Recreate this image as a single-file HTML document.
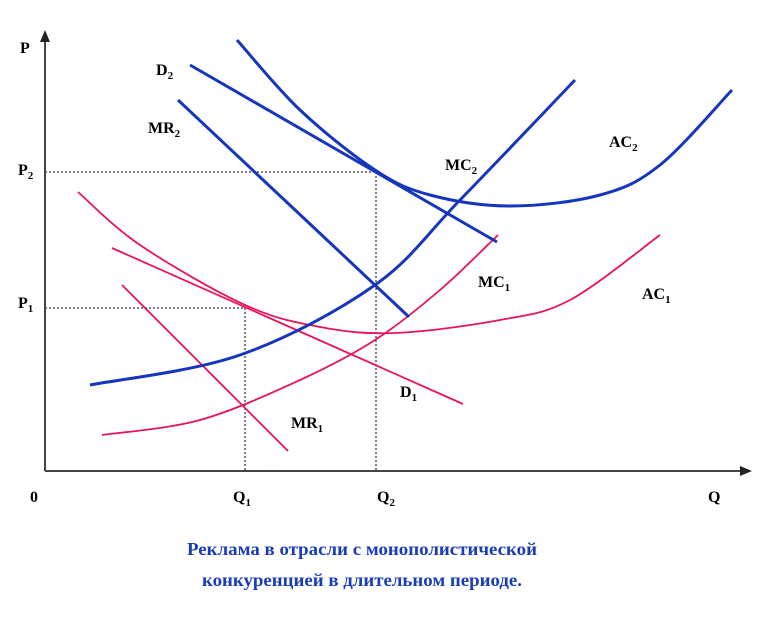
<!DOCTYPE html>
<html><head><meta charset="utf-8"><style>
body{margin:0;background:#fff;width:774px;height:637px;overflow:hidden}
text{font-family:"Liberation Serif",serif;font-weight:bold}
</style></head><body>
<svg width="774" height="637" viewBox="0 0 774 637">
<g id="marks"></g>
<line x1="45" y1="471" x2="745" y2="471" stroke="#444" stroke-width="2"/>
<polygon points="752,471 740,466 740,476" fill="#222"/>
<line x1="45" y1="471" x2="45" y2="38" stroke="#444" stroke-width="2"/>
<polygon points="45,30 40,42 50,42" fill="#222"/>
<g font-size="16" fill="#000">
<text x="20" y="53">P</text>
<text x="708" y="502">Q</text>
<text x="30" y="502">0</text>
<text x="18" y="175">P<tspan font-size="11" dy="4">2</tspan></text>
<text x="18" y="308">P<tspan font-size="11" dy="4">1</tspan></text>
<text x="233" y="502">Q<tspan font-size="11" dy="4">1</tspan></text>
<text x="377" y="502">Q<tspan font-size="11" dy="4">2</tspan></text>
<text x="156" y="75">D<tspan font-size="11" dy="4">2</tspan></text>
<text x="148" y="133">MR<tspan font-size="11" dy="4">2</tspan></text>
<text x="445" y="170">MC<tspan font-size="11" dy="4">2</tspan></text>
<text x="609" y="147">AC<tspan font-size="11" dy="4">2</tspan></text>
<text x="478" y="287">MC<tspan font-size="11" dy="4">1</tspan></text>
<text x="642" y="299">AC<tspan font-size="11" dy="4">1</tspan></text>
<text x="400" y="397">D<tspan font-size="11" dy="4">1</tspan></text>
<text x="291" y="428">MR<tspan font-size="11" dy="4">1</tspan></text>
</g>
<g font-size="18" fill="#1a3cb8" text-anchor="middle">
<text x="362" y="555" textLength="350" lengthAdjust="spacingAndGlyphs">Реклама в отрасли с монополистической</text>
<text x="362" y="586" textLength="320" lengthAdjust="spacingAndGlyphs">конкуренцией в длительном периоде.</text>
</g>
</svg>
<script>
const p2 = 299, p1 = 163, q1 = 200, q2 = 331;
const mc2Q = [45,195,330,415,530], mc2P = [86,116,186,271,391];
const ac2Q = [192,255,330,385,465,555,615,687], ac2P = [431,361,301,276,265,276,306,381];
const d2Q = [145,452], d2P = [406,229];
const mr2Q = [133,364], mr2P = [371,154];
const ac1Q = [33,95,200,275,350,455,525,615], ac1P = [279,226,166,144,138,151,171,236];
const d1Q = [67,418], d1P = [223,67];
const mr1Q = [77,243], mr1P = [186,20];
const mc1Q = [57,155,255,330,395,453], mc1P = [36,51,91,131,181,236];
const xs = v => 45 + v, ys = v => 471 - v;
const g = document.getElementById('marks');
const NS = 'http://www.w3.org/2000/svg';
function pathOf(Q, P) {
  const pts = Q.map((q, i) => [xs(q), ys(P[i])]);
  let d = 'M' + pts[0][0] + ',' + pts[0][1];
  for (let i = 0; i < pts.length - 1; i++) {
    const a = pts[i - 1] || pts[i], b = pts[i], c = pts[i + 1], e = pts[i + 2] || c;
    d += ' C' + (b[0] + (c[0] - a[0]) / 6) + ',' + (b[1] + (c[1] - a[1]) / 6) + ' ' + (c[0] - (e[0] - b[0]) / 6) + ',' + (c[1] - (e[1] - b[1]) / 6) + ' ' + c[0] + ',' + c[1];
  }
  return d;
}
function guide(x1, y1, x2, y2, name) {
  const l = document.createElementNS(NS, 'line');
  l.setAttribute('x1', x1); l.setAttribute('y1', y1); l.setAttribute('x2', x2); l.setAttribute('y2', y2);
  l.setAttribute('stroke', '#000'); l.setAttribute('stroke-width', '1'); l.setAttribute('stroke-dasharray', '2,2');
  
  
  g.appendChild(l);
}
guide(xs(0), ys(p2), xs(q2), ys(p2), 'p2-guide');
guide(xs(0), ys(p1), xs(q1), ys(p1), 'p1-guide');
guide(xs(q1), ys(p1), xs(q1), ys(0), 'q1-guide');
guide(xs(q2), ys(p2), xs(q2), ys(0), 'q2-guide');
function curve(Q, P, color, w, name) {
  const p = document.createElementNS(NS, 'path');
  p.setAttribute('d', pathOf(Q, P));
  p.setAttribute('fill', 'none'); p.setAttribute('stroke', color); p.setAttribute('stroke-width', w);
  
  
  g.appendChild(p);
}
const blue = '#1636bc', red = '#e8145a';
curve(ac1Q, ac1P, red, 1.8, 'ac1-curve');
curve(d1Q, d1P, red, 1.8, 'd1-line');
curve(mr1Q, mr1P, red, 1.8, 'mr1-line');
curve(mc1Q, mc1P, red, 1.8, 'mc1-curve');
curve(mc2Q, mc2P, blue, 3, 'mc2-curve');
curve(ac2Q, ac2P, blue, 3, 'ac2-curve');
curve(d2Q, d2P, blue, 3, 'd2-line');
curve(mr2Q, mr2P, blue, 3, 'mr2-line');
</script>
</body></html>
